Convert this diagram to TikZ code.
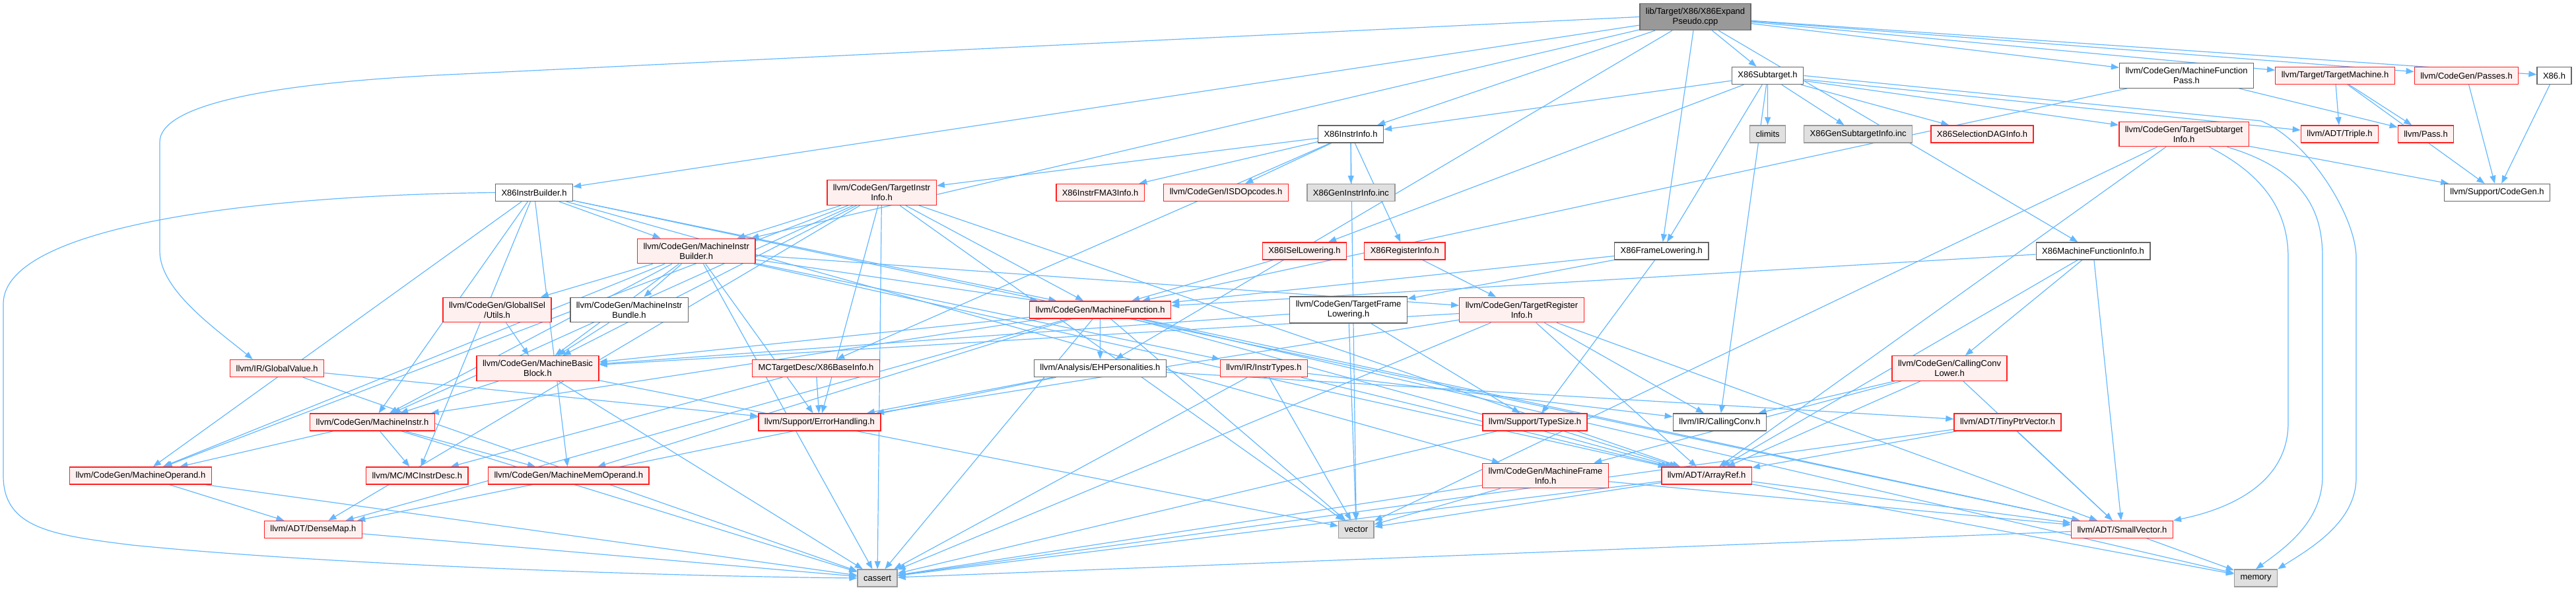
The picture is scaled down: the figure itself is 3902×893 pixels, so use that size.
\documentclass[tikz,border=0pt]{standalone}
\usepackage{fontspec}
\setmainfont{Liberation Sans}
\usetikzlibrary{arrows.meta,calc}
\definecolor{edgeblue}{HTML}{63B8FF}
\definecolor{redline}{HTML}{FF2020}
\definecolor{redfill}{HTML}{FFF0F0}
\definecolor{grayline}{HTML}{999999}
\definecolor{grayfill}{HTML}{E0E0E0}
\definecolor{darkline}{HTML}{666666}
\definecolor{rootfill}{HTML}{999999}
\pgfdeclarelayer{bg}
\pgfsetlayers{bg,main}

\begin{document}
\begin{tikzpicture}[
    x=1pt, y=-1pt,
    every node/.style={draw, line width=1.4pt, inner xsep=9pt, inner ysep=6.5pt, minimum height=26pt, align=center, font=\fontsize{13}{15}\selectfont},
    hdr/.style={draw=redline, fill=redfill},
    doc/.style={draw=darkline, fill=white},
    sys/.style={draw=grayline, fill=grayfill},
    src/.style={draw=darkline, fill=rootfill},
    arrow/.style={-{Triangle[length=12pt,width=9pt]}, line width=1.2pt, edgeblue}
]
\useasboundingbox (0,0) rectangle (3902,893);

% rank 1
\node[src] (root) at (2568,25.5) {lib/Target/X86/X86Expand\\Pseudo.cpp};
% rank 2
\node[doc] (subtgt) at (2677.5,114.5) {X86Subtarget.h};
\node[doc] (mfpass) at (3312,114.5) {llvm/CodeGen/MachineFunction\\Pass.h};
\node[hdr] (tmach) at (3537,114.5) {llvm/Target/TargetMachine.h};
\node[hdr] (passes) at (3736,114.5) {llvm/CodeGen/Passes.h};
\node[doc] (xh) at (3869,114.5) {X86.h};
% rank 3
\node[doc] (instrinfo) at (2046,203) {X86InstrInfo.h};
\node[sys] (climits) at (2677.6,203) {climits};
\node[sys] (gensub) at (2814.7,203) {X86GenSubtargetInfo.inc};
\node[hdr] (seldag) at (3002.5,203) {X86SelectionDAGInfo.h};
\node[hdr] (tsi) at (3308,203) {llvm/CodeGen/TargetSubtarget\\Info.h};
\node[hdr] (triple) at (3544,203) {llvm/ADT/Triple.h};
\node[hdr] (pass) at (3674.5,203) {llvm/Pass.h};
% rank 4
\node[doc] (instrbld) at (809,291.5) {X86InstrBuilder.h};
\node[hdr] (tii) at (1335.5,291.5) {llvm/CodeGen/TargetInstr\\Info.h};
\node[hdr] (fma3) at (1666.6,291.5) {X86InstrFMA3Info.h};
\node[hdr] (isd) at (1857,291.5) {llvm/CodeGen/ISDOpcodes.h};
\node[sys] (geninstr) at (2046.4,291.5) {X86GenInstrInfo.inc};
\node[doc] (cgen) at (3782.5,291.5) {llvm/Support/CodeGen.h};
% rank 5
\node[hdr] (mib) at (1054.7,380) {llvm/CodeGen/MachineInstr\\Builder.h};
\node[hdr] (isel) at (1976,380) {X86ISelLowering.h};
\node[hdr] (reginfo) at (2127.8,380) {X86RegisterInfo.h};
\node[doc] (framelow) at (2516.8,380) {X86FrameLowering.h};
\node[doc] (mfi) at (3170.5,380) {X86MachineFunctionInfo.h};
% rank 6
\node[hdr] (gisel) at (753,469) {llvm/CodeGen/GlobalISel\\/Utils.h};
\node[doc] (bundle) at (953,469) {llvm/CodeGen/MachineInstr\\Bundle.h};
\node[hdr] (mf) at (1666.6,469) {llvm/CodeGen/MachineFunction.h};
\node[doc] (tfl) at (2042.6,469) {llvm/CodeGen/TargetFrame\\Lowering.h};
\node[hdr] (tri) at (2305,469) {llvm/CodeGen/TargetRegister\\Info.h};
% rank 7
\node[hdr] (gv) at (419.7,557.5) {llvm/IR/GlobalValue.h};
\node[hdr] (mbb) at (814.5,557.5) {llvm/CodeGen/MachineBasic\\Block.h};
\node[hdr] (baseinfo) at (1236,557.5) {MCTargetDesc/X86BaseInfo.h};
\node[doc] (ehp) at (1666.4,557.5) {llvm/Analysis/EHPersonalities.h};
\node[hdr] (instrtypes) at (1914.4,557.5) {llvm/IR/InstrTypes.h};
\node[hdr] (cclower) at (2953,557.5) {llvm/CodeGen/CallingConv\\Lower.h};
% rank 8
\node[hdr] (mi) at (564,639) {llvm/CodeGen/MachineInstr.h};
\node[hdr] (errh) at (1241.4,639) {llvm/Support/ErrorHandling.h};
\node[hdr] (typesize) at (2325,639) {llvm/Support/TypeSize.h};
\node[doc] (callconv) at (2605,639) {llvm/IR/CallingConv.h};
\node[hdr] (tinyptr) at (3041,639) {llvm/ADT/TinyPtrVector.h};
% rank 9
\node[hdr] (mop) at (213,720) {llvm/CodeGen/MachineOperand.h};
\node[hdr] (mcdesc) at (631.8,720) {llvm/MC/MCInstrDesc.h};
\node[hdr] (mmo) at (861.3,720) {llvm/CodeGen/MachineMemOperand.h};
\node[hdr] (mfinfo) at (2341,720) {llvm/CodeGen/MachineFrame\\Info.h};
\node[hdr] (arrayref) at (2585,720) {llvm/ADT/ArrayRef.h};
% rank 10
\node[hdr] (densemap) at (474.4,801.5) {llvm/ADT/DenseMap.h};
\node[sys] (vector) at (2054.4,801.5) {vector};
\node[hdr] (smallvec) at (3214.4,801.5) {llvm/ADT/SmallVector.h};
% rank 11
\node[sys] (cassert) at (1329,875) {cassert};
\node[sys] (memory) at (3417,875) {memory};

\begin{pgfonlayer}{bg}
% includes of the source file
\draw[arrow] (root) -- (instrbld);
\draw[arrow] (root) -- (instrinfo);
\draw[arrow] (root) -- (subtgt);
\draw[arrow] (root) -- (mfpass);
\draw[arrow] (root) -- (tmach);
\draw[arrow] (root) -- (passes);
\draw[arrow] (root) -- (xh);
\draw[arrow] (root) -- (framelow);
\draw[arrow] (root) -- (mfi);
\draw[arrow] (root) -- (mib);
\draw[arrow] (root.west) -- (700,112) .. controls (400,125) and (242,160) .. (242,215)
    -- (242,380) .. controls (242,440) and (330,500) .. ($(gv.north)+(-37,0)$);
\draw[arrow] (root) -- (ehp);
% X86Subtarget.h
\draw[arrow] (subtgt) -- (instrinfo);
\draw[arrow] (subtgt) -- (framelow);
\draw[arrow] (subtgt) -- (isel);
\draw[arrow] (subtgt) -- (seldag);
\draw[arrow] (subtgt) -- (climits);
\draw[arrow] (subtgt) -- (gensub);
\draw[arrow] (subtgt) -- (tsi);
\draw[arrow] (subtgt) -- (triple);
\draw[arrow] (subtgt) -- (callconv);
\draw[arrow] (subtgt.east) -- (3425,183) .. controls (3500,215) and (3569,330) .. (3569,390)
    -- (3569,723) .. controls (3569,790) and (3500,830) .. (memory.north east);
% pass and target headers
\draw[arrow] (mfpass) -- (mf);
\draw[arrow] (mfpass) -- (pass);
\draw[arrow] (tmach) -- (triple);
\draw[arrow] (tmach) -- (pass);
\draw[arrow] (tmach) -- (cgen);
\draw[arrow] (passes) -- (cgen);
\draw[arrow] (xh) -- (cgen);
% X86InstrInfo.h
\draw[arrow] (instrinfo) -- (tii);
\draw[arrow] (instrinfo) -- (fma3);
\draw[arrow] (instrinfo) -- (isd);
\draw[arrow] (instrinfo) -- (geninstr);
\draw[arrow] (instrinfo) -- (reginfo);
\draw[arrow] (instrinfo) -- (baseinfo);
\draw[arrow] (instrinfo) -- (vector);
% TargetSubtargetInfo.h
\draw[arrow] (tsi) -- (cgen);
\draw[arrow] (tsi) -- (arrayref);
\draw[arrow] (tsi) .. controls (3440,270) and (3466,330) .. (3466,390)
    -- (3466,640) .. controls (3466,730) and (3380,770) .. (smallvec.north east);
\draw[arrow] (tsi) .. controls (3500,260) and (3518,330) .. (3518,390)
    -- (3518,720) .. controls (3518,790) and (3460,830) .. (memory.north);
\draw[arrow] (tsi) -- (vector);
% X86InstrBuilder.h
\draw[arrow] (instrbld) -- (mib);
\draw[arrow] (instrbld) -- (mf);
\draw[arrow] (instrbld) -- (mi);
\draw[arrow] (instrbld) -- (mop);
\draw[arrow] (instrbld) -- (mcdesc);
\draw[arrow] (instrbld) -- (mmo);
\draw[arrow] (instrbld) -- (mfinfo);
\draw[arrow] (instrbld) -- (smallvec);
\draw[arrow] (instrbld.west) .. controls (400,295) and (5,340) .. (5,460)
    -- (5,720) .. controls (5,800) and (80,810) .. (200,825)
    .. controls (500,855) and (1000,872) .. (cassert.west);
% TargetInstrInfo.h
\draw[arrow] (tii) -- (mib);
\draw[arrow] (tii) -- (mf);
\draw[arrow] (tii) -- (mbb);
\draw[arrow] (tii) -- (mi);
\draw[arrow] (tii) -- (mop);
\draw[arrow] (tii) -- (arrayref);
\draw[arrow] (tii) -- (densemap);
\draw[arrow] (tii) -- (errh);
\draw[arrow] (tii) -- (cassert);
\draw[arrow] (tii) -- (vector);
% MachineInstrBuilder.h
\draw[arrow] (mib) -- (gisel);
\draw[arrow] (mib) -- (bundle);
\draw[arrow] (mib) -- (mbb);
\draw[arrow] (mib) -- (mf);
\draw[arrow] (mib) -- (mi);
\draw[arrow] (mib) -- (mop);
\draw[arrow] (mib) -- (tri);
\draw[arrow] (mib) -- (instrtypes);
\draw[arrow] (mib) -- (errh);
\draw[arrow] (mib) -- (arrayref);
\draw[arrow] (mib) -- (cassert);
% X86 lowering headers
\draw[arrow] (isel) -- (mf);
\draw[arrow] (reginfo) -- (tri);
\draw[arrow] (framelow) -- (mf);
\draw[arrow] (framelow) -- (tfl);
\draw[arrow] (framelow) -- (typesize);
\draw[arrow] (mfi) -- (mf);
\draw[arrow] (mfi) -- (cclower);
\draw[arrow] (mfi) -- (arrayref);
\draw[arrow] (mfi) -- (smallvec);
% rank 6 headers
\draw[arrow] (gisel) -- (mbb);
\draw[arrow] (bundle) -- (mbb);
\draw[arrow] (mf) -- (ehp);
\draw[arrow] (mf) -- (mbb);
\draw[arrow] (mf) -- (mi);
\draw[arrow] (mf) -- (mmo);
\draw[arrow] (mf) -- (arrayref);
\draw[arrow] (mf) -- (densemap);
\draw[arrow] (mf) -- (smallvec);
\draw[arrow] (mf) -- (cassert);
\draw[arrow] (mf) -- (vector);
\draw[arrow] (mf) -- (memory);
\draw[arrow] (tfl) -- (mbb);
\draw[arrow] (tfl) -- (typesize);
\draw[arrow] (tfl) -- (vector);
\draw[arrow] (tri) -- (mbb);
\draw[arrow] (tri) -- (arrayref);
\draw[arrow] (tri) -- (smallvec);
\draw[arrow] (tri) -- (callconv);
\draw[arrow] (tri) -- (errh);
\draw[arrow] (tri) -- (cassert);
% rank 7 headers
\draw[arrow] (gv) -- (errh);
\draw[arrow] (gv) -- (cassert);
\draw[arrow] (mbb) -- (mi);
\draw[arrow] (mbb) -- (cassert);
\draw[arrow] (mbb) -- (vector);
\draw[arrow] (baseinfo) -- (mcdesc);
\draw[arrow] (baseinfo) -- (errh);
\draw[arrow] (ehp) -- (densemap);
\draw[arrow] (ehp) -- (tinyptr);
\draw[arrow] (ehp) -- (errh);
\draw[arrow] (instrtypes) -- (arrayref);
\draw[arrow] (instrtypes) -- (callconv);
\draw[arrow] (instrtypes) -- (cassert);
\draw[arrow] (instrtypes) -- (vector);
\draw[arrow] (cclower) -- (callconv);
\draw[arrow] (cclower) -- (mfinfo);
\draw[arrow] (cclower) -- (arrayref);
\draw[arrow] (cclower) -- (smallvec);
% rank 8 headers
\draw[arrow] (mi) -- (mop);
\draw[arrow] (mi) -- (mcdesc);
\draw[arrow] (mi) -- (mmo);
\draw[arrow] (mi) -- (cassert);
\draw[arrow] (typesize) -- (arrayref);
\draw[arrow] (typesize) -- (cassert);
\draw[arrow] (tinyptr) -- (arrayref);
\draw[arrow] (tinyptr) -- (smallvec);
\draw[arrow] (tinyptr) -- (cassert);
% rank 9 and 10 headers
\draw[arrow] (mop) -- (densemap);
\draw[arrow] (mop) -- (cassert);
\draw[arrow] (mfinfo) -- (smallvec);
\draw[arrow] (mfinfo) -- (vector);
\draw[arrow] (mfinfo) -- (cassert);
\draw[arrow] (arrayref) -- (smallvec);
\draw[arrow] (arrayref) -- (cassert);
\draw[arrow] (arrayref) -- (memory);
\draw[arrow] (arrayref) -- (vector);
\draw[arrow] (densemap) -- (cassert);
\draw[arrow] (smallvec) -- (cassert);
\draw[arrow] (smallvec) -- (memory);
\end{pgfonlayer}
\end{tikzpicture}
\end{document}
